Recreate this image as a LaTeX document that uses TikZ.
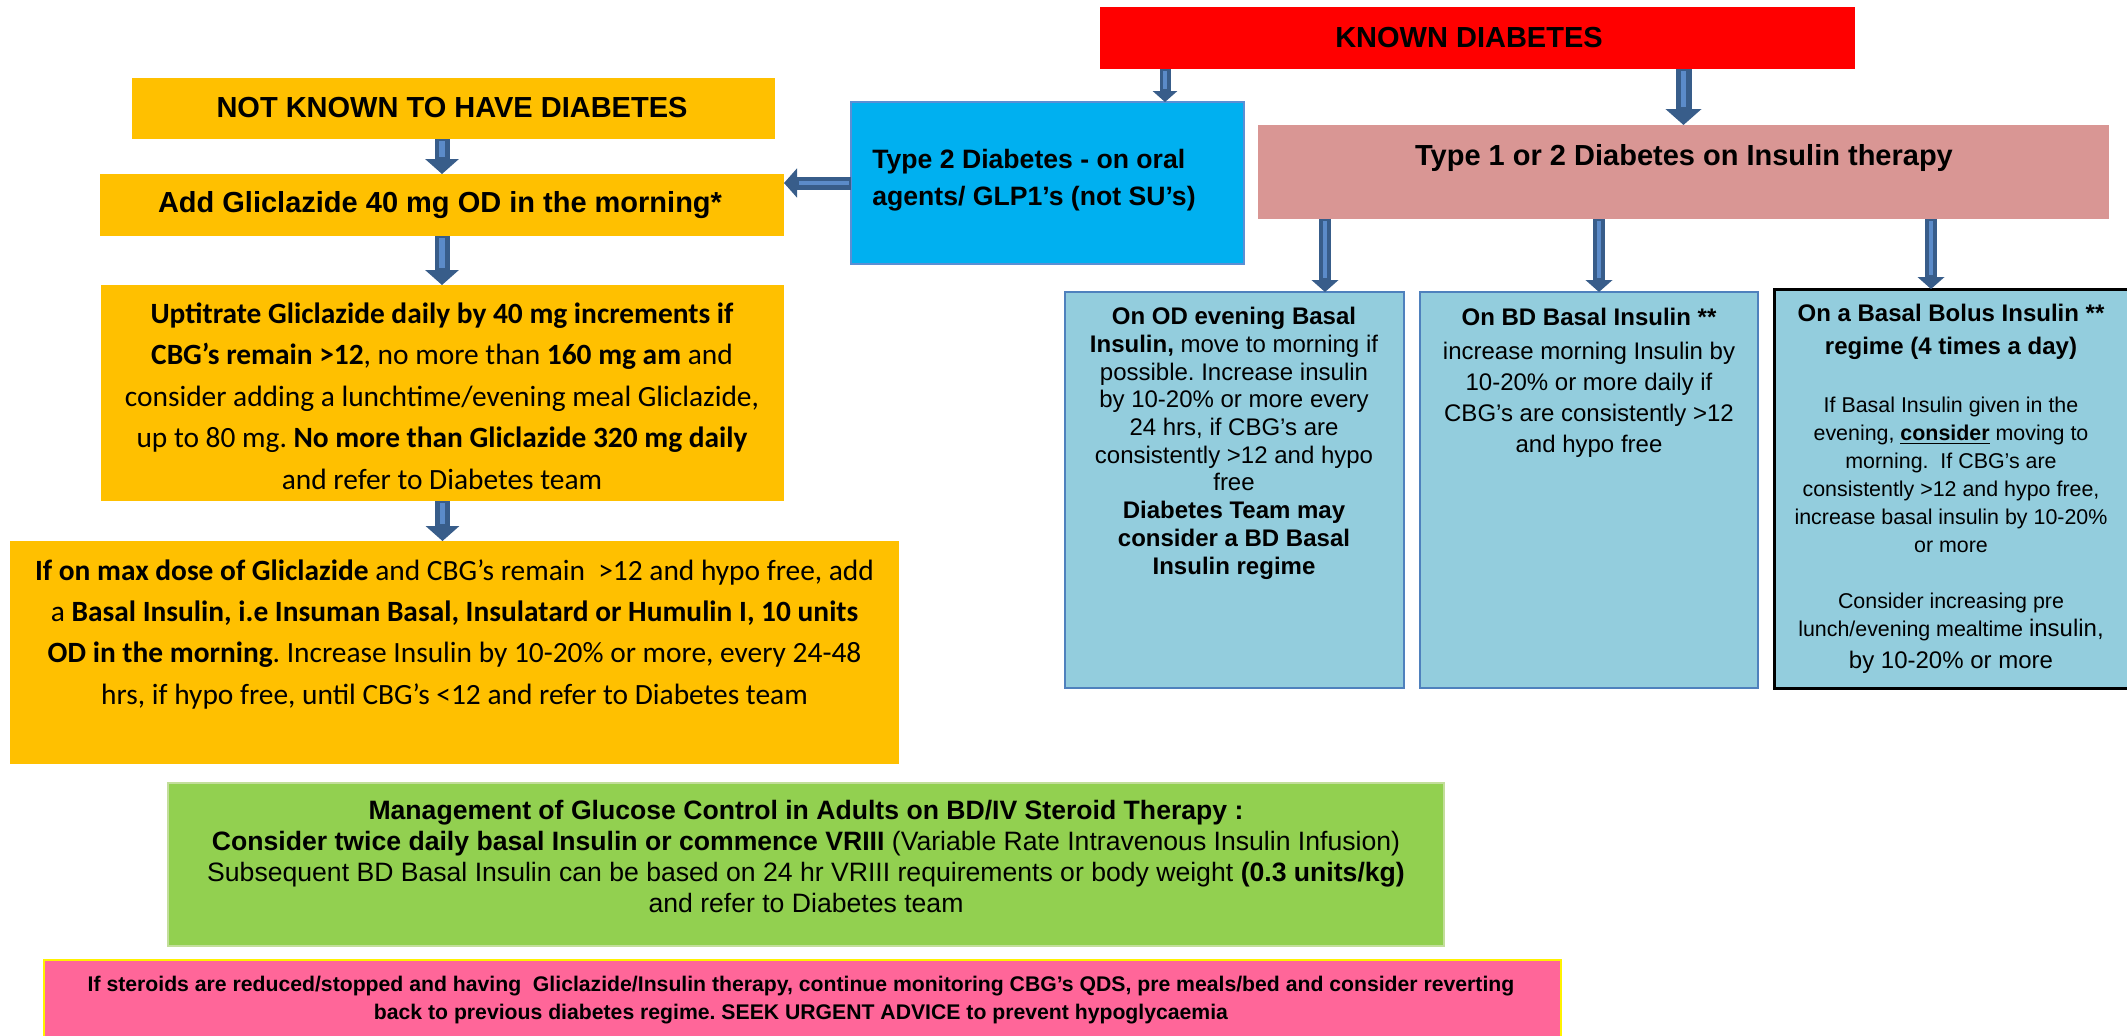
\documentclass[tikz,border=0pt]{standalone}
\usepackage{fontspec}
\setmainfont{Liberation Sans}
\newfontfamily\calfont{Carlito}
\usetikzlibrary{arrows.meta,calc}
\frenchspacing
\definecolor{amber}{HTML}{FFC000}
\definecolor{skyfill}{HTML}{00B0F0}
\definecolor{skyedge}{HTML}{5B8FD4}
\definecolor{rosefill}{HTML}{D99694}
\definecolor{paleblue}{HTML}{93CDDD}
\definecolor{boxedge}{HTML}{4F81BD}
\definecolor{leaf}{HTML}{92D050}
\definecolor{leafedge}{HTML}{C3DE9B}
\definecolor{hotpink}{HTML}{FF6699}
\definecolor{arrowdark}{HTML}{385D8A}
\definecolor{arrowlight}{HTML}{5B8BC9}

\begin{document}
\begin{tikzpicture}[x=0.5pt, y=-0.5pt,
    box/.style={inner sep=0pt, outer sep=0pt},
    txt/.style={inner sep=0pt, align=center, anchor=base},
    blockarrow/.style={draw=arrowdark, line width=#1pt,
        -{Triangle[width=0pt 2.2, length=0pt 1]},
        postaction={draw=arrowlight, line width=0.35*#1pt, arrows=-, shorten >=#1pt+1pt, shorten <=1pt}}
]
\useasboundingbox (0,0) rectangle (2127,1035);

\node[box, fill=red, minimum width=377.5pt, minimum height=31pt] (known) at (1477.5,38) {};
\node[box, fill=amber, minimum width=321.5pt, minimum height=30.5pt] (notknown) at (453.5,108.5) {};
\node[box, fill=amber, minimum width=342pt, minimum height=31pt] (addgli) at (442,205) {};
\node[box, fill=skyfill, draw=skyedge, line width=1pt, minimum width=196.5pt, minimum height=81pt] (type2) at (1047.5,183) {};
\node[box, fill=rosefill, minimum width=425.5pt, minimum height=47pt] (insulin) at (1683.5,172) {};
\node[box, fill=amber, minimum width=341.5pt, minimum height=108pt] (uptitrate) at (442.5,393) {};
\node[box, fill=amber, minimum width=444.5pt, minimum height=111.5pt] (maxdose) at (454.5,652.5) {};
\node[box, fill=paleblue, draw=boxedge, line width=1pt, minimum width=169.5pt, minimum height=198pt] (odbasal) at (1234.5,490) {};
\node[box, fill=paleblue, draw=boxedge, line width=1pt, minimum width=169pt, minimum height=198pt] (bdbasal) at (1589,490) {};
\node[box, fill=paleblue, draw=black, line width=1.5pt, minimum width=181pt, minimum height=199.5pt] (bolus) at (1955,488.5) {};
\node[box, fill=leaf, draw=leafedge, line width=0.75pt, minimum width=638pt, minimum height=81.5pt] (steroid) at (806,864.5) {};
\node[box, fill=hotpink, draw=yellow, line width=1pt, minimum width=758.5pt, minimum height=42.5pt] (stopping) at (802.5,1002.5) {};

\node[txt, font=\fontsize{14.5}{17}\selectfont\bfseries] (knowntxt) at (1469,47) {KNOWN DIABETES};
\node[txt, font=\fontsize{14.5}{17}\selectfont\bfseries] (notknowntxt) at (452,117) {NOT KNOWN TO HAVE DIABETES};
\node[txt, font=\fontsize{14.5}{17}\selectfont\bfseries] (addglitxt) at (440,212) {Add Gliclazide 40 mg OD in the morning*};
\node[txt, anchor=base west, align=left, font=\fontsize{13.3}{18.5}\selectfont\bfseries] (type2txt) at (872,205) {Type 2 Diabetes - on oral\\agents/ GLP1’s (not SU’s)};
\node[txt, font=\fontsize{14.5}{17}\selectfont\bfseries] (insulintxt) at (1684,165) {Type 1 or 2 Diabetes on Insulin therapy};
\node[txt, font=\calfont\fontsize{14.7}{20.75}\selectfont] (uptitratetxt) at (442,489) {\textbf{Uptitrate Gliclazide daily by 40 mg increments if}\\
  \textbf{CBG’s remain >12}, no more than \textbf{160 mg am} and\\
  consider adding a lunchtime/evening meal Gliclazide,\\
  up to 80 mg. \textbf{No more than Gliclazide 320 mg daily}\\
  and refer to Diabetes team};
\node[txt, font=\calfont\fontsize{14.7}{20.65}\selectfont] (maxdosetxt) at (454.5,704) {\textbf{If on max dose of Gliclazide} and CBG’s remain\ \ >12 and hypo free, add\\
  a \textbf{Basal Insulin, i.e Insuman Basal, Insulatard or Humulin I, 10 units}\\
  \textbf{OD in the morning}. Increase Insulin by 10-20\% or more, every 24-48\\
  hrs, if hypo free, until CBG’s <12 and refer to Diabetes team};
\node[txt, font=\fontsize{12}{13.85}\selectfont] (odbasaltxt) at (1234,574) {\textbf{On OD evening Basal}\\
  \textbf{Insulin,} move to morning if\\
  possible. Increase insulin\\
  by 10-20\% or more every\\
  24 hrs, if CBG’s are\\
  consistently >12 and hypo\\
  free\\
  \textbf{Diabetes Team may}\\
  \textbf{consider a BD Basal}\\
  \textbf{Insulin regime}};
\node[txt, font=\fontsize{12}{15.5}\selectfont] (bdbasaltxt) at (1589,452) {\textbf{On BD Basal Insulin **}\\[1.5pt]
  increase morning Insulin by\\
  10-20\% or more daily if\\
  CBG’s are consistently >12\\
  and hypo free};
\node[txt, font=\fontsize{12}{16.5}\selectfont\bfseries] (bolushead) at (1951,354) {On a Basal Bolus Insulin **\\regime (4 times a day)};
\node[txt, font=\fontsize{10.7}{14}\selectfont] (bolustxt) at (1951,668) {If Basal Insulin given in the\\
  evening, \underline{\textbf{consider}} moving to\\
  morning.\ \ If CBG’s are\\
  consistently >12 and hypo free,\\
  increase basal insulin by 10-20\%\\
  or more\\[14pt]
  Consider increasing pre\\
  lunch/evening mealtime {\fontsize{12}{14}\selectfont insulin,}\\[2pt]
  {\fontsize{12}{14}\selectfont by 10-20\% or more}};
\node[txt, font=\fontsize{13.3}{15.35}\selectfont] (steroidtxt) at (806,912) {\textbf{Management of Glucose Control in Adults on BD/IV Steroid Therapy :}\\
  \textbf{Consider twice daily basal Insulin or commence VRIII} (Variable Rate Intravenous Insulin Infusion)\\
  Subsequent BD Basal Insulin can be based on 24 hr VRIII requirements or body weight \textbf{(0.3 units/kg)}\\
  and refer to Diabetes team};
\node[txt, font=\fontsize{10.6}{14}\selectfont\bfseries] (stoppingtxt) at (801,1019) {If steroids are reduced/stopped and having\ \ Gliclazide/Insulin therapy, continue monitoring CBG’s QDS, pre meals/bed and consider reverting\\
  back to previous diabetes regime. SEEK URGENT ADVICE to prevent hypoglycaemia};

\coordinate (type2in) at (1165,102);
\coordinate (odin) at (1325,292);
\coordinate (bdin) at (1599,292);
\coordinate (bolusin) at (1931,289);

\draw[blockarrow=7.5] (notknown.south -| addgli.north) -- (addgli.north);
\draw[blockarrow=7.5] (addgli.south) -- (addgli.south |- uptitrate.north);
\draw[blockarrow=7.5] (uptitrate.south) -- (uptitrate.south |- maxdose.north);
\draw[blockarrow=6.5] (type2.west) -- (type2.west -| addgli.east);
\draw[blockarrow=5.5] (known.south -| type2in) -- (type2in);
\draw[blockarrow=8] (known.south -| insulin.north) -- (insulin.north);
\draw[blockarrow=6] (insulin.south -| odin) -- (odin);
\draw[blockarrow=6] (insulin.south -| bdin) -- (bdin);
\draw[blockarrow=6] (insulin.south -| bolusin) -- (bolusin);
\end{tikzpicture}
\end{document}
